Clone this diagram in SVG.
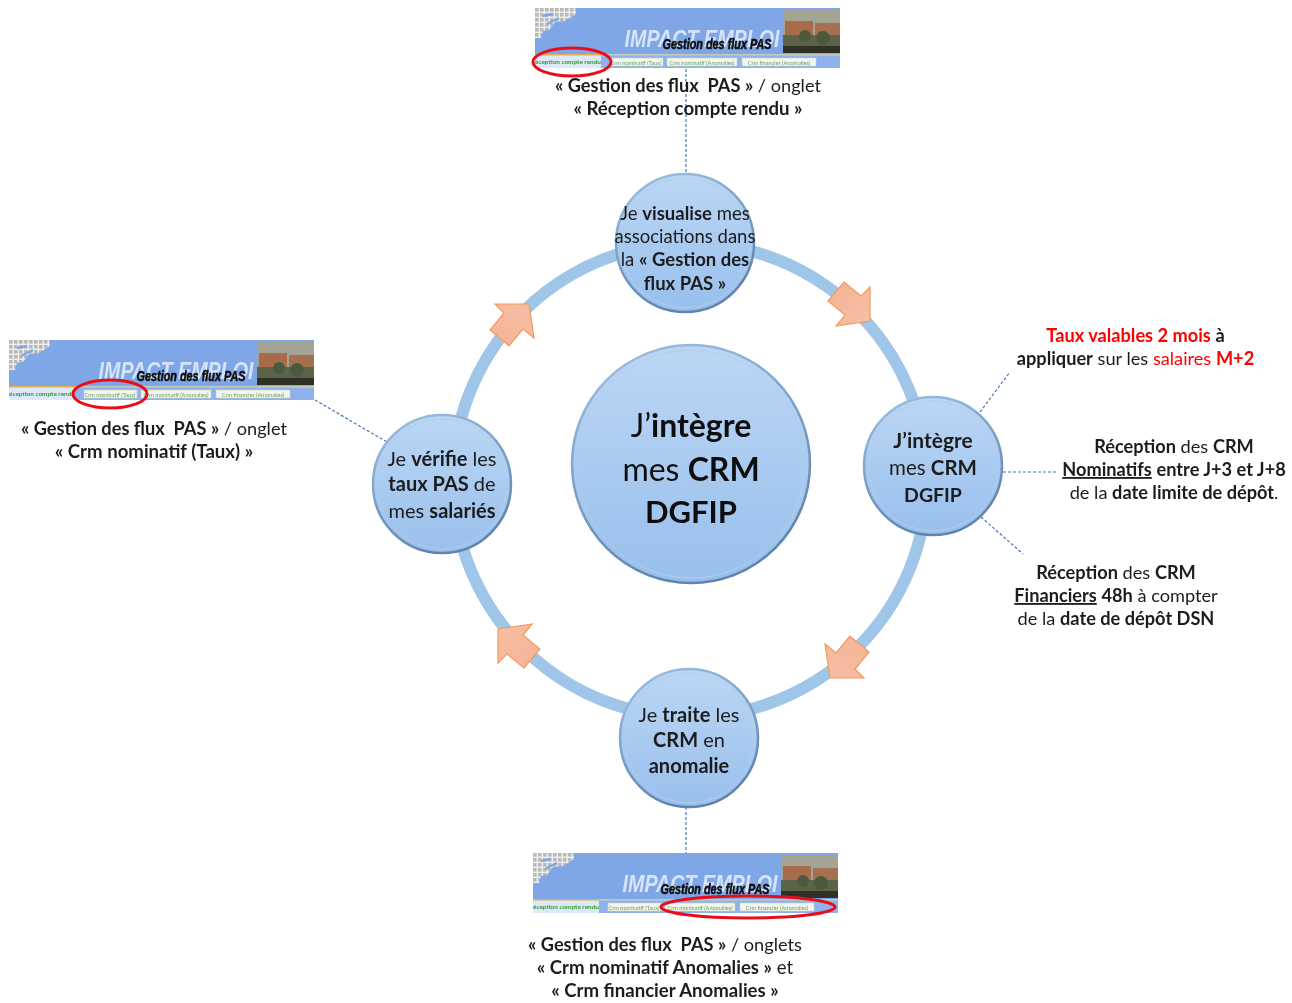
<svg xmlns="http://www.w3.org/2000/svg" width="1292" height="1003" viewBox="0 0 1292 1003">
<style>
text{font-family:"Lato","Open Sans","Liberation Sans",sans-serif;fill:#1c1c1c;text-anchor:middle;font-size:18.2px;white-space:pre}
.b{font-weight:700}.r{fill:#f00}.u{text-decoration:underline}
.g{font-size:18.6px}
.n{font-size:20px}.v{font-size:18.5px}.c{font-size:32px;fill:#111}
.dash{fill:none;stroke:#4472c4;stroke-width:1.2;stroke-dasharray:3 2}
.bub{fill:url(#g);stroke:url(#e);stroke-width:2.5}
.in{fill:none;stroke:#b4cde9;stroke-width:1}
.oval{fill:none;stroke:#e8101c;stroke-width:3}
.ar{fill:url(#o);stroke:#f29a60;stroke-width:1.2}
.tab{fill:#f3f5ee;stroke:#c9cfc0;stroke-width:.6}
.tt{font-size:5.6px;fill:#6aa55a}
.im{font-family:"Liberation Sans",sans-serif;font-size:24px;font-weight:700;font-style:italic;fill:#d6e4fb}
.ge{font-family:"Liberation Sans",sans-serif;font-size:14px;font-weight:700;font-style:italic;fill:#0c0c0c;stroke:#0c0c0c;stroke-width:.5}
</style>
<defs>
<linearGradient id="g" x1="0" y1="0" x2="0" y2="1"><stop offset="0" stop-color="#bcd7f5"/><stop offset="1" stop-color="#98bfec"/></linearGradient>
<linearGradient id="e" x1="0" y1="0" x2="0.4" y2="1"><stop offset="0" stop-color="#9fc2e6"/><stop offset="1" stop-color="#5f84ab"/></linearGradient>
<linearGradient id="o" x1="0" y1="0" x2="1" y2="1"><stop offset="0" stop-color="#f6b294"/><stop offset="1" stop-color="#f5bfa5"/></linearGradient>
<filter id="s" x="-5%" y="-10%" width="110%" height="120%"><feGaussianBlur stdDeviation=".6"/></filter>
<filter id="soft" filterUnits="userSpaceOnUse" x="0" y="0" width="1292" height="1003"><feGaussianBlur stdDeviation=".4"/></filter>
<pattern id="chk" width="5" height="5" patternUnits="userSpaceOnUse"><rect width="5" height="5" fill="#eeeeee"/><rect width="3.6" height="3.6" fill="#b9bab8"/></pattern>
<clipPath id="bc"><rect width="305" height="60"/></clipPath>
<polygon id="arrow" class="ar" points="-5,-22 12,-8 21,-17 21,17 -13,22 -4,11 -21,-3"/>
<g id="banner" filter="url(#s)" clip-path="url(#bc)">
<rect width="305" height="60" fill="#7fa6e6"/>
<rect y="47" width="305" height="13" fill="#8fb2ec"/>
<path d="M0 0H41V6L30 13 20 14 14 22 8 23 6 30H0Z" fill="url(#chk)"/>
<path d="M8 8L18 6M12 16L24 10" stroke="#7fa6e6" stroke-width="2.5"/>
<rect x="248" y="2" width="57" height="43" fill="#a3a494"/>
<rect x="250" y="13" width="28" height="14" fill="#a96c4c"/>
<rect x="280" y="15" width="25" height="13" fill="#a4704f"/>
<rect x="248" y="27" width="57" height="12" fill="#5c6449"/>
<circle cx="270" cy="28" r="6" fill="#4c5a3d"/><circle cx="288" cy="30" r="7" fill="#4c5a3d"/>
<rect x="248" y="38" width="57" height="7" fill="#2d3128"/>
<text x="167" y="39" class="im" textLength="155" lengthAdjust="spacingAndGlyphs">IMPACT EMPLOI</text>
<text x="182" y="41" class="ge" textLength="109" lengthAdjust="spacingAndGlyphs">Gestion des flux PAS</text>
<rect y="46" width="305" height="1.5" fill="#c4cbb8"/>
<rect y="47" width="66" height="13" fill="#dde8fa"/>
<rect y="46" width="66" height="1.5" fill="#e0b050"/>
<text x="31" y="55.5" class="tt" style="font-size:6.4px;font-weight:700;fill:#2f9a2c">Réception compte rendu</text>
<rect x="75" y="50" width="53" height="8" class="tab"/><text x="101" y="56.5" class="tt">Crm nominatif (Taux)</text>
<rect x="132" y="50" width="70" height="8" class="tab"/><text x="167" y="56.5" class="tt">Crm nominatif (Anomalies)</text>
<rect x="207" y="50" width="74" height="8" class="tab"/><text x="244" y="56.5" class="tt">Crm financier (Anomalies)</text>
</g>
</defs>
<rect width="1292" height="1003" fill="#fff"/>
<g filter="url(#soft)">
<g id="connectors">
<circle cx="690" cy="480" r="237" fill="none" stroke="#9fc5e8" stroke-width="12"/>
<path class="dash" d="M686 69V175"/>
<path class="dash" d="M315 400L387 442"/>
<path class="dash" d="M686 807V853"/>
<path class="dash" d="M980 412L1010 372"/>
<path class="dash" d="M1003 472H1057"/>
<path class="dash" d="M981 517L1023 554"/>
<use href="#arrow" transform="translate(849 304)"/>
<use href="#arrow" transform="translate(847 657) rotate(90)"/>
<use href="#arrow" transform="translate(519 646) rotate(180)"/>
<use href="#arrow" transform="translate(512 325) rotate(270)"/>
</g>
<g id="node-centre"><circle class="bub" cx="691" cy="464" r="119"/><circle class="in" cx="691" cy="464" r="114"/>
<text x="691" y="437" class="c">J’<tspan class="b">intègre</tspan></text>
<text x="691" y="481" class="c">mes <tspan class="b">CRM</tspan></text>
<text x="691" y="523" class="c b" style="font-size:31px">DGFIP</text></g>
<g id="node-top"><circle class="bub" cx="685" cy="243" r="69"/><circle class="in" cx="685" cy="243" r="65"/>
<text class="v" x="685" y="220">Je <tspan class="b">visualise</tspan> mes</text>
<text class="v" x="685" y="243">associations dans</text>
<text class="v" x="685" y="266">la <tspan class="b">« Gestion des</tspan></text>
<text class="v b" x="685" y="290">flux PAS »</text></g>
<g id="node-right"><circle class="bub" cx="933" cy="466" r="69"/><circle class="in" cx="933" cy="466" r="65"/>
<text class="n b" x="933" y="448" style="font-size:21px">J’intègre</text>
<text class="n" x="933" y="475" style="font-size:20.5px">mes <tspan class="b">CRM</tspan></text>
<text class="n b" x="933" y="502" style="font-size:19.5px">DGFIP</text></g>
<g id="node-bottom"><circle class="bub" cx="689" cy="738" r="69"/><circle class="in" cx="689" cy="738" r="65"/>
<text class="n" x="689" y="722">Je <tspan class="b">traite</tspan> les</text>
<text class="n" x="689" y="747"><tspan class="b">CRM</tspan> en</text>
<text class="n b" x="689" y="773">anomalie</text></g>
<g id="node-left"><circle class="bub" cx="442" cy="484" r="69"/><circle class="in" cx="442" cy="484" r="65"/>
<text class="n" x="442" y="466">Je <tspan class="b">vérifie</tspan> les</text>
<text class="n" x="442" y="491"><tspan class="b">taux PAS</tspan> de</text>
<text class="n" x="442" y="518">mes <tspan class="b">salariés</tspan></text></g>
<g id="note-top"><use href="#banner" x="535" y="8"/>
<ellipse class="oval" cx="572" cy="62" rx="39" ry="14"/>
<text x="688" y="92"><tspan class="b">« Gestion des flux  PAS »</tspan> / onglet</text>
<text x="688" y="115" class="b g">« Réception compte rendu »</text></g>
<g id="note-left"><use href="#banner" x="9" y="340"/>
<ellipse class="oval" cx="110" cy="394" rx="37" ry="14"/>
<text x="154" y="435"><tspan class="b">« Gestion des flux  PAS »</tspan> / onglet</text>
<text x="154" y="458" class="g b">« Crm nominatif (Taux) »</text></g>
<g id="note-bottom"><use href="#banner" x="533" y="853"/>
<ellipse class="oval" cx="748" cy="907" rx="87" ry="11"/>
<text x="665" y="951"><tspan class="b">« Gestion des flux  PAS »</tspan> / onglets</text>
<text x="665" y="974" class="g"><tspan class="b">« Crm nominatif Anomalies »</tspan> et</text>
<text x="665" y="997" class="b g">« Crm financier Anomalies »</text></g>
<g id="note-rate">
<text x="1135.5" y="342"><tspan class="r b">Taux valables 2 mois</tspan> <tspan class="b">à</tspan></text>
<text x="1135.5" y="365"><tspan class="b">appliquer</tspan> sur les <tspan class="r">salaires </tspan><tspan class="r b">M+2</tspan></text></g>
<g id="note-nominatifs">
<text x="1174" y="453"><tspan class="b">Réception</tspan> des <tspan class="b">CRM</tspan></text>
<text x="1174" y="476"><tspan class="b u">Nominatifs</tspan> <tspan class="b">entre J+3 et J+8</tspan></text>
<text x="1174" y="499">de la <tspan class="b">date limite de dépôt</tspan>.</text></g>
<g id="note-financiers">
<text x="1116" y="579"><tspan class="b">Réception</tspan> des <tspan class="b">CRM</tspan></text>
<text x="1116" y="602"><tspan class="b u">Financiers</tspan> <tspan class="b">48h</tspan> à compter</text>
<text x="1116" y="625">de la <tspan class="b">date de dépôt DSN</tspan></text></g>
</g>
</svg>
